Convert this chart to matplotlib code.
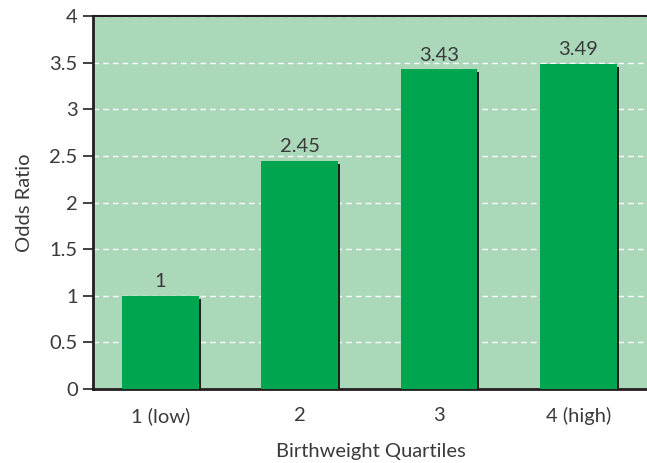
import matplotlib
matplotlib.use("Agg")
import matplotlib.pyplot as plt
import matplotlib.patheffects as pe
import numpy as np

quartiles = ["1 (low)", "2", "3", "4 (high)"]
odds_ratio = [1, 2.45, 3.43, 3.49]
value_labels = ["1", "2.45", "3.43", "3.49"]
yticks = [0, 0.5, 1, 1.5, 2, 2.5, 3, 3.5, 4]
ytick_labels = ["0", "0.5", "1", "1.5", "2", "2.5", "3", "3.5", "4"]

plt.rcParams['font.family'] = ['Lato', 'DejaVu Sans']
txt = '#3a3a3a'
fs = 14.5

fig = plt.figure(figsize=(6.47, 4.63), dpi=100)
ax = fig.add_axes([0.1437, 0.1598, 0.858, 0.8056])
ax.set_facecolor('#aad8b9')

x = np.arange(len(quartiles))
bars = ax.bar(x, odds_ratio, width=0.55, color='#00a550', zorder=3,
              path_effects=[pe.SimplePatchShadow(offset=(1.5, -2.2), shadow_rgbFace='#231f20', alpha=1.0),
                            pe.Normal()])

# value labels above bars
for xi, v, lab in zip(x, odds_ratio, value_labels):
    ax.annotate(lab, (xi, v), xytext=(0, 4), textcoords='offset points',
                ha='center', va='bottom', fontsize=fs, color=txt)

ax.set_xlim(-0.483, 3.5)
ax.set_ylim(0, 4)
ax.set_yticks(yticks)
ax.set_yticklabels(ytick_labels)
ax.set_xticks(x)
ax.set_xticklabels(quartiles)
ax.yaxis.grid(True, color='white', linestyle=(0, (4, 3)), linewidth=1, zorder=1)
ax.set_axisbelow(True)

ax.tick_params(axis='y', length=7, width=1.2, color='#231f20', labelsize=fs, labelcolor=txt, pad=4)
ax.tick_params(axis='x', length=0, labelsize=fs, labelcolor=txt, pad=13)

for side in ['left', 'bottom']:
    ax.spines[side].set_linewidth(2)
    ax.spines[side].set_color('#231f20')
ax.spines['top'].set_linewidth(1.5)
ax.spines['top'].set_color('#231f20')
ax.spines['right'].set_visible(False)

ax.set_xlabel("Birthweight Quartiles", fontsize=fs, color=txt, labelpad=13)
ax.set_ylabel("Odds Ratio", fontsize=fs, color=txt, labelpad=12)

fig.savefig("out.png", dpi=100)
